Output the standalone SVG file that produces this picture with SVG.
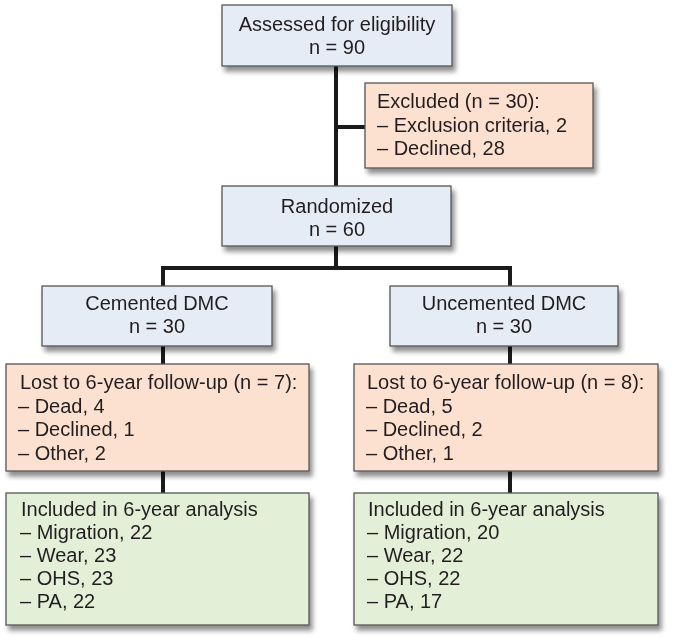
<svg xmlns="http://www.w3.org/2000/svg" width="674" height="642" viewBox="0 0 674 642">
<defs>
<filter id="sh" x="-10%" y="-10%" width="125%" height="135%">
<feGaussianBlur in="SourceAlpha" stdDeviation="2.5"/>
<feOffset dx="3" dy="5" result="b"/>
<feComponentTransfer><feFuncA type="linear" slope="0.45"/></feComponentTransfer>
<feMerge><feMergeNode/><feMergeNode in="SourceGraphic"/></feMerge>
</filter>
</defs>
<style>
.node rect{stroke:#555;stroke-width:1.3}
.b{fill:#e6ecf5}
.o{fill:#fde1d0}
.g{fill:#e3efd7}
text{font-family:"Liberation Sans",Arial,sans-serif;font-size:20px;fill:#231f20}
.c{text-anchor:middle}
.conn{stroke:#1a1a1a;stroke-width:4;fill:none}
</style>
<rect width="674" height="642" fill="#fff"/>
<g id="connectors" class="conn">
<path d="M336 66V186"/>
<path d="M336 127H365"/>
<path d="M336 246V268"/>
<path d="M163 268H510"/>
<path d="M163 266V286M510 266V286"/>
<path d="M163 346V364M510 346V364"/>
<path d="M163 471V493M510 471V493"/>
</g>
<g id="assessed" class="node" filter="url(#sh)">
<rect class="b" x="222" y="5" width="230" height="61"/>
<text class="c" x="337" y="31">Assessed for eligibility</text>
<text class="c" x="337" y="54">n = 90</text>
</g>
<g id="excluded" class="node" filter="url(#sh)">
<rect class="o" x="365" y="83" width="228" height="85"/>
<text x="377" y="108">Excluded (n = 30):</text>
<text x="377" y="132">– Exclusion criteria, 2</text>
<text x="377" y="155">– Declined, 28</text>
</g>
<g id="randomized" class="node" filter="url(#sh)">
<rect class="b" x="222" y="186" width="229" height="60"/>
<text class="c" x="337" y="213">Randomized</text>
<text class="c" x="337" y="236">n = 60</text>
</g>
<g id="cemented" class="node" filter="url(#sh)">
<rect class="b" x="42" y="286" width="230" height="60"/>
<text class="c" x="157" y="310">Cemented DMC</text>
<text class="c" x="157" y="333">n = 30</text>
</g>
<g id="uncemented" class="node" filter="url(#sh)">
<rect class="b" x="390" y="286" width="228" height="60"/>
<text class="c" x="504" y="310">Uncemented DMC</text>
<text class="c" x="504" y="333">n = 30</text>
</g>
<g id="lost-cemented" class="node" filter="url(#sh)">
<rect class="o" x="6" y="364" width="303" height="107"/>
<text x="20" y="389">Lost to 6-year follow-up (n = 7):</text>
<text x="18" y="413">– Dead, 4</text>
<text x="18" y="436">– Declined, 1</text>
<text x="18" y="460">– Other, 2</text>
</g>
<g id="lost-uncemented" class="node" filter="url(#sh)">
<rect class="o" x="354" y="364" width="304" height="107"/>
<text x="367" y="389">Lost to 6-year follow-up (n = 8):</text>
<text x="366" y="413">– Dead, 5</text>
<text x="366" y="436">– Declined, 2</text>
<text x="366" y="460">– Other, 1</text>
</g>
<g id="included-cemented" class="node" filter="url(#sh)">
<rect class="g" x="6" y="493" width="303" height="132"/>
<text x="21" y="516">Included in 6-year analysis</text>
<text x="20" y="539">– Migration, 22</text>
<text x="20" y="562">– Wear, 23</text>
<text x="20" y="585">– OHS, 23</text>
<text x="20" y="608">– PA, 22</text>
</g>
<g id="included-uncemented" class="node" filter="url(#sh)">
<rect class="g" x="354" y="493" width="304" height="132"/>
<text x="368" y="516">Included in 6-year analysis</text>
<text x="367" y="539">– Migration, 20</text>
<text x="367" y="562">– Wear, 22</text>
<text x="367" y="585">– OHS, 22</text>
<text x="367" y="608">– PA, 17</text>
</g>
</svg>
